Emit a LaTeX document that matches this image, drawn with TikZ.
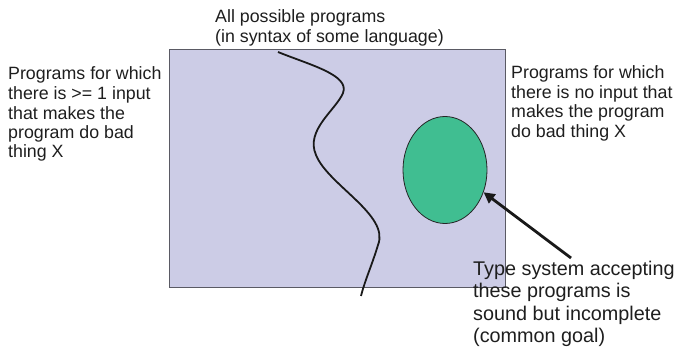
\documentclass[tikz,border=0pt]{standalone}
\usepackage{fontspec}
\setmainfont{Liberation Sans}
\usetikzlibrary{arrows.meta,shapes.geometric}
\definecolor{boxfill}{RGB}{204,204,230}
\definecolor{boxline}{RGB}{90,90,100}
\definecolor{ovalfill}{RGB}{64,190,145}
\definecolor{txt}{RGB}{30,30,30}
\tikzset{
  lbl/.style={anchor=base west, inner sep=0pt, align=left, font=\fontsize{17.8}{19.5}\selectfont, text=txt},
  biglbl/.style={lbl, font=\fontsize{19.8}{22.5}\selectfont},
}
\begin{document}
\begin{tikzpicture}[x=1pt,y=-1pt]
\useasboundingbox (0,0) rectangle (678,350);
\node[draw=boxline, fill=boxfill, line width=1pt, minimum width=336pt, minimum height=238pt, inner sep=0pt, anchor=north west] (box) at (169,49) {};
\node[draw=black!85, fill=ovalfill, ellipse, line width=0.8pt, minimum width=84pt, minimum height=107pt, inner sep=0pt] (oval) at (445,170) {};
\coordinate (c0) at (278,52);
\coordinate (c4) at (361,296);
\draw[line width=1.8pt, black!90] (c0) .. controls (310,65) and (350,75) .. (343,93)
  .. controls (336,110) and (305,130) .. (316,155)
  .. controls (328,185) and (390,215) .. (378,245)
  .. controls (372,265) and (365,280) .. (c4);
\node[lbl] (top) at (215,42.5) {All possible programs\\(in syntax of some language)};
\node[lbl] (left) at (8,158) {Programs for which\\there is >= 1 input\\that makes the\\program do bad\\thing X};
\node[lbl] (right) at (511,137.5) {Programs for which\\there is no input that\\makes the program\\do bad thing X};
\node[biglbl] (ts) at (473,342.5) {Type system accepting\\these programs is\\sound but incomplete\\(common goal)};
\coordinate (astart) at (571,258);
\draw[line width=2.8pt, black!90, -{Triangle[length=11pt,width=11pt]}] (astart) -- (oval.-30);
\end{tikzpicture}
\end{document}
